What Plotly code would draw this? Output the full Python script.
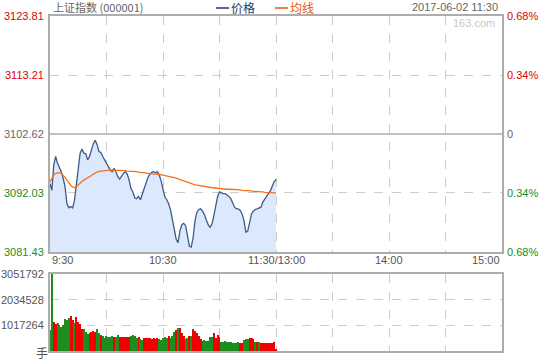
import plotly.graph_objects as go

# ---------------- data ----------------
prev_close = 3102.62
price_ticks = [3081.43, 3092.03, 3102.62, 3113.21, 3123.81]
price_tick_labels = ["3081.43", "3092.03", "3102.62", "3113.21", "3123.81"]
pct_tick_labels = ["0.68%", "0.34%", "0", "0.34%", "0.68%"]
tick_colors = ["#1a8c1a", "#1a8c1a", "#666666", "#e00000", "#e00000"]
vol_ticks = [1017264, 2034528, 3051792]
vol_tick_labels = ["1017264", "2034528", "3051792"]
time_tick_idx = [0, 60, 120, 180, 240]
time_tick_labels = ["9:30", "10:30", "11:30/13:00", "14:00", "15:00"]
grid_idx = [30, 60, 90, 120, 150, 180, 210]

price = [
    3093.73, 3092.51, 3097.06, 3098.58, 3097.36, 3096.64, 3095.85, 3094.64, 3093.12, 3090.09,
    3089.36, 3089.61, 3089.36, 3090.70, 3093.42, 3096.15, 3099.18, 3099.91, 3099.18, 3099.06,
    3097.97, 3098.58, 3099.91, 3100.88, 3101.48, 3100.70, 3099.48, 3099.30, 3098.58, 3097.97,
    3097.24, 3096.64, 3096.15, 3095.85, 3096.45, 3095.85, 3094.94, 3094.51, 3095.06, 3095.55,
    3095.85, 3095.42, 3094.33, 3092.82, 3092.21, 3091.18, 3091.00, 3091.42, 3090.82, 3091.79,
    3093.00, 3094.03, 3094.82, 3095.42, 3095.73, 3095.85, 3095.67, 3095.85, 3095.24, 3094.21,
    3092.51, 3091.30, 3090.82, 3090.09, 3089.00, 3087.36, 3085.55, 3083.73, 3083.12, 3085.24,
    3086.33, 3086.58, 3086.15, 3084.51, 3082.51, 3082.33, 3084.03, 3087.06, 3088.58, 3089.06,
    3089.18, 3088.76, 3088.15, 3087.18, 3086.33, 3085.85, 3086.45, 3087.97, 3089.79, 3091.42,
    3092.21, 3092.03, 3091.91, 3091.91, 3091.73, 3091.42, 3091.00, 3090.09, 3089.48, 3089.18,
    3089.18, 3088.88, 3088.27, 3087.06, 3084.94, 3085.24, 3087.06, 3088.27, 3088.76, 3089.06,
    3089.18, 3089.30, 3089.48, 3090.39, 3091.00, 3091.42, 3091.91, 3092.39, 3093.24, 3094.03,
    3094.45,
]

avg_price = [
    3094.03, 3094.64, 3095.24, 3095.55, 3095.67, 3095.67, 3095.55, 3095.24, 3094.82, 3094.33,
    3093.85, 3093.42, 3093.12, 3093.00, 3093.12, 3093.48, 3093.85, 3094.15, 3094.33, 3094.51,
    3094.70, 3094.94, 3095.18, 3095.42, 3095.67, 3095.79, 3095.91, 3095.97, 3096.03, 3096.09,
    3096.15, 3096.15, 3096.15, 3096.15, 3096.15, 3096.15, 3096.09, 3096.09, 3096.09, 3096.03,
    3096.03, 3095.97, 3095.97, 3095.91, 3095.91, 3095.85, 3095.85, 3095.79, 3095.73, 3095.67,
    3095.61, 3095.55, 3095.55, 3095.48, 3095.48, 3095.42, 3095.42, 3095.42, 3095.36, 3095.30,
    3095.24, 3095.18, 3095.12, 3095.06, 3095.00, 3094.94, 3094.82, 3094.70, 3094.58, 3094.45,
    3094.33, 3094.21, 3094.09, 3093.97, 3093.85, 3093.73, 3093.61, 3093.48, 3093.42, 3093.36,
    3093.24, 3093.18, 3093.12, 3093.12, 3093.06, 3093.00, 3092.94, 3092.94, 3092.88, 3092.88,
    3092.82, 3092.82, 3092.76, 3092.76, 3092.70, 3092.70, 3092.70, 3092.64, 3092.64, 3092.64,
    3092.58, 3092.58, 3092.51, 3092.51, 3092.45, 3092.45, 3092.39, 3092.39, 3092.33, 3092.33,
    3092.27, 3092.27, 3092.21, 3092.21, 3092.15, 3092.15, 3092.09, 3092.09, 3092.03, 3092.03,
    3092.03,
]

volume = [
    836000, 3051792, 1140000, 1060000, 1100000, 1030000, 940000, 1030000, 1260000, 1210000,
    1300000, 1390000, 1230000, 1100000, 1330000, 1140000, 1070000, 880000, 880000, 740000,
    680000, 700000, 770000, 800000, 740000, 880000, 720000, 640000, 600000, 530000,
    610000, 560000, 560000, 600000, 560000, 560000, 640000, 560000, 560000, 560000,
    560000, 560000, 560000, 600000, 640000, 600000, 530000, 570000, 480000, 440000,
    530000, 530000, 530000, 530000, 480000, 530000, 480000, 500000, 480000, 440000,
    500000, 560000, 530000, 610000, 530000, 610000, 770000, 820000, 930000, 930000,
    720000, 610000, 480000, 530000, 610000, 600000, 880000, 800000, 700000, 610000,
    480000, 400000, 420000, 400000, 400000, 560000, 560000, 720000, 530000, 640000,
    560000, 370000, 340000, 400000, 340000, 340000, 340000, 310000, 310000, 310000,
    340000, 310000, 310000, 440000, 480000, 480000, 500000, 500000, 480000, 370000,
    370000, 340000, 310000, 310000, 310000, 310000, 310000, 310000, 310000, 340000,
    40000,
]
vol_up = [
    0, 0, 1, 1, 0, 0, 0, 0, 0, 0,
    0, 1, 1, 0, 1, 1, 1, 1, 0, 0,
    0, 1, 1, 1, 1, 0, 0, 1, 0, 0,
    0, 0, 0, 0, 1, 0, 0, 1, 1, 1,
    1, 1, 1, 0, 0, 0, 0, 1, 0, 0,
    1, 1, 1, 1, 1, 1, 1, 1, 0, 0,
    0, 0, 0, 1, 0, 0, 0, 1, 0, 1,
    1, 1, 0, 0, 1, 0, 1, 1, 1, 1,
    1, 0, 0, 0, 0, 0, 0, 1, 1, 1,
    1, 0, 0, 0, 0, 0, 0, 0, 0, 0,
    0, 1, 1, 0, 0, 0, 1, 1, 1, 0,
    1, 0, 1, 1, 1, 1, 1, 1, 1, 1,
    1,
]

# ---------------- layout helpers ----------------
W, H = 540, 360
L, R, T, B = 50, 38, 16, 9
PW, PH = W - L - R, H - T - B


def px_x(px):
    return (px - L) / PW


def px_y(py):
    return (H - B - py) / PH


main_dom = [px_y(252), 1.0]
vol_dom = [0.0, px_y(274)]

RED = "#f00000"
GREEN = "#1f8c1f"
FRAME = "#adadad"
GRID = "#cccccc"
NUMFONT = "Liberation Sans, Arial, sans-serif"
CJK = "Noto Sans CJK SC, sans-serif"

minutes = list(range(len(price)))
vol_minutes = list(range(len(volume)))
bar_colors = [RED if u else GREEN for u in vol_up]

fig = go.Figure()
fig.add_trace(go.Scatter(
    x=minutes, y=price, mode="lines", fill="tozeroy",
    fillcolor="#dce8fb", line=dict(color="#3b5b8c", width=1.3),
    xaxis="x", yaxis="y", hoverinfo="skip", showlegend=False))
fig.add_trace(go.Scatter(
    x=minutes, y=avg_price, mode="lines",
    line=dict(color="#f2711f", width=1.3),
    xaxis="x", yaxis="y", hoverinfo="skip", showlegend=False))
fig.add_trace(go.Bar(
    x=vol_minutes, y=volume, marker=dict(color=bar_colors, line=dict(width=0)),
    width=0.55, xaxis="x2", yaxis="y2", hoverinfo="skip", showlegend=False))

axis_common = dict(showline=True, mirror=True, linecolor=FRAME, linewidth=2,
                   zeroline=False, ticks="", showticklabels=False, fixedrange=True)

fig.update_layout(
    width=W, height=H,
    margin=dict(l=L, r=R, t=T, b=B),
    paper_bgcolor="white", plot_bgcolor="white",
    bargap=0,
    xaxis=dict(domain=[0, 1], range=[0, 240], anchor="y",
               tickvals=grid_idx, showgrid=True, gridcolor=GRID,
               griddash="dash", gridwidth=1, **axis_common),
    xaxis2=dict(domain=[0, 1], range=[0, 240], anchor="y2", matches="x",
                tickvals=grid_idx, showgrid=True, gridcolor=GRID,
                griddash="dash", gridwidth=1, **axis_common),
    yaxis=dict(domain=main_dom, range=[price_ticks[0], price_ticks[-1]], anchor="x",
               tickvals=[price_ticks[1], price_ticks[3]], showgrid=True,
               gridcolor=GRID, griddash="dash", gridwidth=1, **axis_common),
    yaxis2=dict(domain=vol_dom, range=[0, vol_ticks[-1]], anchor="x2",
                tickvals=vol_ticks[:2], showgrid=True, gridcolor=GRID,
                griddash="dash", gridwidth=1, **axis_common),
)

# solid previous-close line
fig.add_shape(type="line", xref="x", yref="y", x0=0, x1=240,
              y0=prev_close, y1=prev_close,
              line=dict(color=FRAME, width=1.5), layer="below")

# legend dashes
fig.add_shape(type="line", xref="paper", yref="paper",
              x0=px_x(216), x1=px_x(229), y0=px_y(8), y1=px_y(8),
              line=dict(color="#1e3a6e", width=1.5))
fig.add_shape(type="line", xref="paper", yref="paper",
              x0=px_x(275), x1=px_x(288), y0=px_y(8), y1=px_y(8),
              line=dict(color="#e8560c", width=1.5))

ann = []
# price labels (left) and percent labels (right)
for v, lab, pl, c in zip(price_ticks, price_tick_labels, pct_tick_labels, tick_colors):
    ann.append(dict(xref="paper", yref="y", x=0, y=v, text=lab, xanchor="right",
                    yanchor="middle", xshift=-4, showarrow=False,
                    font=dict(family=NUMFONT, size=11, color=c)))
    ann.append(dict(xref="paper", yref="y", x=1, y=v, text=pl, xanchor="left",
                    yanchor="middle", xshift=3, showarrow=False,
                    font=dict(family=NUMFONT, size=11, color=c)))
# volume labels
for v, lab in zip(vol_ticks, vol_tick_labels):
    ann.append(dict(xref="paper", yref="y2", x=0, y=v, text=lab, xanchor="right",
                    yanchor="middle", xshift=-4, showarrow=False,
                    font=dict(family=NUMFONT, size=11, color="#555555")))
ann.append(dict(xref="paper", yref="paper", x=px_x(42), y=px_y(352), text="手",
                xanchor="center", yanchor="middle", showarrow=False,
                font=dict(family=CJK, size=12, color="#555555")))
# time labels
for i, (t, lab) in enumerate(zip(time_tick_idx, time_tick_labels)):
    xa = "left" if i == 0 else ("right" if i == len(time_tick_idx) - 1 else "center")
    ann.append(dict(xref="x", yref="paper", x=t, y=px_y(259.5), text=lab,
                    xanchor=xa, yanchor="middle", showarrow=False,
                    font=dict(family=NUMFONT, size=11, color="#555555")))
# header
ann.append(dict(xref="paper", yref="paper", x=px_x(51), y=px_y(7.5),
                text="上证指数 (000001)", xanchor="left", yanchor="middle",
                showarrow=False, font=dict(family=CJK, size=11, color="#666666")))
ann.append(dict(xref="paper", yref="paper", x=px_x(229), y=px_y(7.5),
                text="价格", xanchor="left", yanchor="middle",
                showarrow=False, font=dict(family=CJK, size=12, color="#1e3a6e")))
ann.append(dict(xref="paper", yref="paper", x=px_x(288), y=px_y(7.5),
                text="均线", xanchor="left", yanchor="middle",
                showarrow=False, font=dict(family=CJK, size=12, color="#e8560c")))
ann.append(dict(xref="paper", yref="paper", x=px_x(500), y=px_y(7.5),
                text="2017-06-02 11:30", xanchor="right", yanchor="middle",
                showarrow=False, font=dict(family=NUMFONT, size=11, color="#666666")))
ann.append(dict(xref="paper", yref="paper", x=px_x(497), y=px_y(23.5),
                text="163.com", xanchor="right", yanchor="middle",
                showarrow=False, font=dict(family=NUMFONT, size=11, color="#c8c8c8")))

fig.update_layout(annotations=ann)
fig.write_html("out.html")
